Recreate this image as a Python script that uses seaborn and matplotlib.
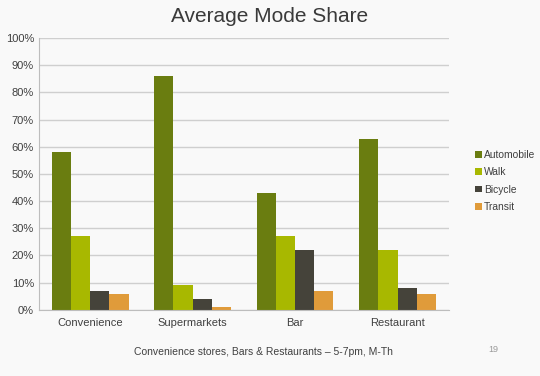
import seaborn as sns
import matplotlib.pyplot as plt
import pandas as pd
from matplotlib.ticker import PercentFormatter

categories = ["Convenience", "Supermarkets", "Bar", "Restaurant"]
modes = ["Automobile", "Walk", "Bicycle", "Transit"]
automobile = [58, 86, 43, 63]
walk = [27, 9, 27, 22]
bicycle = [7, 4, 22, 8]
transit = [6, 1, 7, 6]

colors = ["#6a7d10", "#a8b800", "#45433a", "#e09b3a"]


def build_frame():
    rows = []
    for mode, vals in zip(modes, [automobile, walk, bicycle, transit]):
        for cat, v in zip(categories, vals):
            rows.append({"Category": cat, "Mode": mode, "Share": v})
    return pd.DataFrame(rows)


def main():
    df = build_frame()
    bg = "#f9f9f9"
    sns.set_style("white")
    plt.rcParams["font.family"] = ["Liberation Sans", "DejaVu Sans"]

    fig = plt.figure(figsize=(5.4, 3.76), dpi=100, facecolor=bg)
    ax = fig.add_axes([0.072, 0.176, 0.759, 0.723])
    ax.set_facecolor(bg)

    sns.barplot(data=df, x="Category", y="Share", hue="Mode",
                palette=colors, width=0.75, saturation=1,
                linewidth=0, ax=ax)

    ax.set_ylim(0, 100)
    ax.set_yticks(range(0, 101, 10))
    ax.yaxis.set_major_formatter(PercentFormatter(decimals=0))
    ax.grid(axis="y", color="#cfcfcf", linewidth=1)
    ax.set_axisbelow(True)
    ax.set_xlabel("")
    ax.set_ylabel("")
    ax.tick_params(axis="both", length=0, labelsize=8, colors="#404040")
    ax.tick_params(axis="x", pad=6)
    for side in ["top", "right"]:
        ax.spines[side].set_visible(False)
    for side in ["left", "bottom"]:
        ax.spines[side].set_color("#bdbdbd")

    ax.legend(loc="center left", bbox_to_anchor=(1.055, 0.474), frameon=False,
              fontsize=7.4, handlelength=0.6, handleheight=0.6,
              handletextpad=0.25, labelspacing=0.72, labelcolor="#404040",
              borderaxespad=0)

    fig.text(0.5, 0.955, "Average Mode Share", ha="center", va="center",
             fontsize=15, color="#3a3a3a")
    fig.text(0.487, 0.063, "Convenience stores, Bars & Restaurants \u2013 5-7pm, M-Th",
             ha="center", va="center", fontsize=7.5, color="#404040")
    fig.text(0.913, 0.07, "19", ha="center", va="center",
             fontsize=6.5, color="#9a9a9a")

    fig.savefig("out.png", dpi=100, facecolor=bg)


if __name__ == "__main__":
    main()
